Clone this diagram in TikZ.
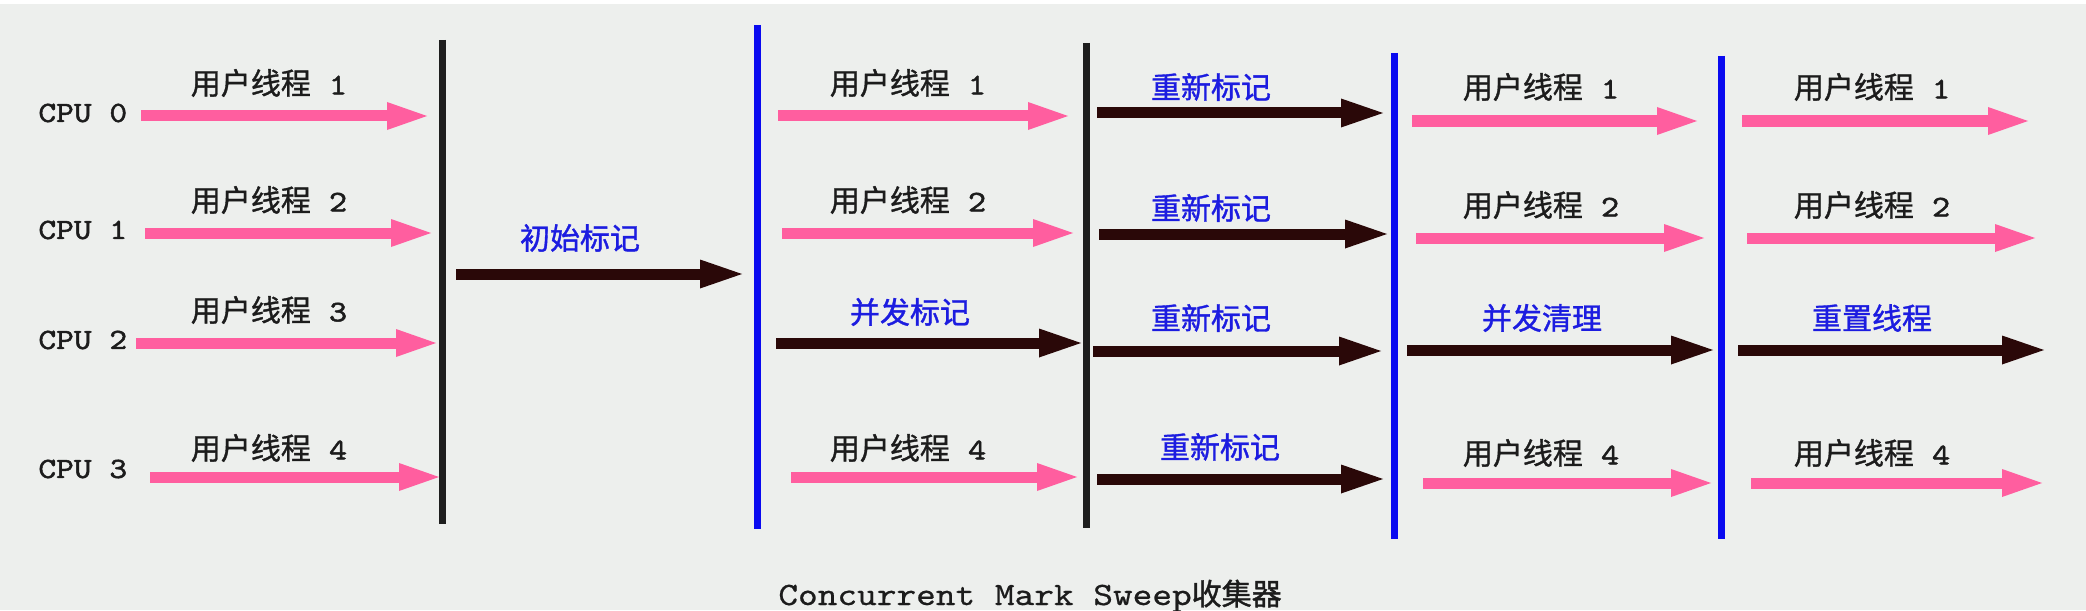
\documentclass[tikz,border=0pt]{standalone}
\usepackage{fontspec}
\usetikzlibrary{arrows.meta}
\newfontfamily\cjk{Noto Sans CJK SC}[FakeBold=1.2]
\newfontfamily\monoc{lmmono10-regular.otf}[FakeStretch=1.15,FakeBold=0.6]
\newfontfamily\monob{lmmono10-regular.otf}[FakeStretch=1.15,FakeBold=1.6]
\definecolor{bg}{HTML}{EDEFED}
\definecolor{pinkA}{HTML}{FF5E9F}
\definecolor{darkA}{HTML}{2A0808}
\definecolor{blueT}{HTML}{1C1CE0}
\definecolor{blueL}{HTML}{0A0AF0}
\definecolor{blackL}{HTML}{1E1E1E}
\definecolor{txt}{HTML}{1C1C1C}
\newcommand{\uthread}[1]{{\cjk 用户线程}{\monob\ #1}}
\tikzset{
  parr/.style={pinkA, line width=5.5pt, -{Triangle[length=20pt,width=14pt,line width=0pt]}},
  darr/.style={darkA, line width=5.5pt, -{Triangle[length=21pt,width=14.5pt,line width=0pt]}},
  blackbar/.style={blackL, line width=3.5pt},
  bluebar/.style={blueL, line width=3.5pt},
  ulab/.style={txt, inner sep=0pt, font=\fontsize{15}{18}\selectfont},
  blab/.style={blueT, inner sep=0pt, font=\fontsize{15}{18}\selectfont\cjk},
  cpulab/.style={txt, inner sep=0pt, anchor=west, font=\fontsize{14.7}{18}\selectfont\monob},
}
\begin{document}
\begin{tikzpicture}[x=0.5pt,y=-0.5pt]
\useasboundingbox (0,0) rectangle (2086,610);
\fill[bg] (0,0) rectangle (2086,610);
\fill[white] (0,0) rectangle (2086,4);

% vertical bars
\coordinate (k1t) at (442,40);  \coordinate (k1b) at (442,524);
\coordinate (b1t) at (757,25);  \coordinate (b1b) at (757,529);
\coordinate (k2t) at (1086,43); \coordinate (k2b) at (1086,528);
\coordinate (b2t) at (1394,53); \coordinate (b2b) at (1394,539);
\coordinate (b3t) at (1721,56); \coordinate (b3b) at (1721,539);
\draw[blackbar] (k1t) -- (k1b);
\draw[bluebar] (b1t) -- (b1b);
\draw[blackbar] (k2t) -- (k2b);
\draw[bluebar] (b2t) -- (b2b);
\draw[bluebar] (b3t) -- (b3b);

% CPU labels
\node[cpulab] (cpu0) at (38,113) {CPU 0};
\node[cpulab] (cpu1) at (38,230) {CPU 1};
\node[cpulab] (cpu2) at (38,340) {CPU 2};
\node[cpulab] (cpu3) at (38,469) {CPU 3};

% column 1
\coordinate (a10s) at (141,116); \coordinate (a10e) at (427,116);
\coordinate (a11s) at (145,233); \coordinate (a11e) at (431,233);
\coordinate (a12s) at (136,343); \coordinate (a12e) at (436,343);
\coordinate (a13s) at (150,477); \coordinate (a13e) at (439,477);
\draw[parr] (a10s) -- (a10e);
\draw[parr] (a11s) -- (a11e);
\draw[parr] (a12s) -- (a12e);
\draw[parr] (a13s) -- (a13e);
\node[ulab] (l10) at (269,83) {\uthread{1}};
\node[ulab] (l11) at (269,200) {\uthread{2}};
\node[ulab] (l12) at (269,310) {\uthread{3}};
\node[ulab] (l13) at (269,448) {\uthread{4}};

% initial mark
\coordinate (ims) at (456,274); \coordinate (ime) at (742,274);
\draw[darr] (ims) -- (ime);
\node[blab] (lim) at (580,238) {初始标记};

% column 2
\coordinate (a20s) at (778,116); \coordinate (a20e) at (1068,116);
\coordinate (a21s) at (782,233); \coordinate (a21e) at (1073,233);
\coordinate (a22s) at (776,343); \coordinate (a22e) at (1081,343);
\coordinate (a23s) at (791,477); \coordinate (a23e) at (1077,477);
\draw[parr] (a20s) -- (a20e);
\draw[parr] (a21s) -- (a21e);
\draw[darr] (a22s) -- (a22e);
\draw[parr] (a23s) -- (a23e);
\node[ulab] (l20) at (908,83) {\uthread{1}};
\node[ulab] (l21) at (908,200) {\uthread{2}};
\node[blab] (l22) at (910,312) {并发标记};
\node[ulab] (l23) at (908,448) {\uthread{4}};

% column 3
\coordinate (a30s) at (1097,113); \coordinate (a30e) at (1383,113);
\coordinate (a31s) at (1099,234); \coordinate (a31e) at (1387,234);
\coordinate (a32s) at (1093,351); \coordinate (a32e) at (1381,351);
\coordinate (a33s) at (1097,479); \coordinate (a33e) at (1383,479);
\draw[darr] (a30s) -- (a30e);
\draw[darr] (a31s) -- (a31e);
\draw[darr] (a32s) -- (a32e);
\draw[darr] (a33s) -- (a33e);
\node[blab] (l30) at (1211,87) {重新标记};
\node[blab] (l31) at (1211,208) {重新标记};
\node[blab] (l32) at (1211,318) {重新标记};
\node[blab] (l33) at (1220,447) {重新标记};

% column 4
\coordinate (a40s) at (1412,121); \coordinate (a40e) at (1697,121);
\coordinate (a41s) at (1416,238); \coordinate (a41e) at (1704,238);
\coordinate (a42s) at (1407,350); \coordinate (a42e) at (1713,350);
\coordinate (a43s) at (1423,483); \coordinate (a43e) at (1711,483);
\draw[parr] (a40s) -- (a40e);
\draw[parr] (a41s) -- (a41e);
\draw[darr] (a42s) -- (a42e);
\draw[parr] (a43s) -- (a43e);
\node[ulab] (l40) at (1541,87) {\uthread{1}};
\node[ulab] (l41) at (1541,205) {\uthread{2}};
\node[blab] (l42) at (1542,318) {并发清理};
\node[ulab] (l43) at (1541,453) {\uthread{4}};

% column 5
\coordinate (a50s) at (1742,121); \coordinate (a50e) at (2028,121);
\coordinate (a51s) at (1747,238); \coordinate (a51e) at (2035,238);
\coordinate (a52s) at (1738,350); \coordinate (a52e) at (2044,350);
\coordinate (a53s) at (1751,483); \coordinate (a53e) at (2042,483);
\draw[parr] (a50s) -- (a50e);
\draw[parr] (a51s) -- (a51e);
\draw[darr] (a52s) -- (a52e);
\draw[parr] (a53s) -- (a53e);
\node[ulab] (l50) at (1872,87) {\uthread{1}};
\node[ulab] (l51) at (1872,205) {\uthread{2}};
\node[blab] (l52) at (1872,318) {重置线程};
\node[ulab] (l53) at (1872,453) {\uthread{4}};

% caption
\node[txt, inner sep=0pt, anchor=base west] (cap) at (778,605)
  {{\fontsize{16.3}{18}\selectfont\monoc Concurrent Mark Sweep}{\fontsize{15}{18}\selectfont\cjk 收集器}};
\end{tikzpicture}
\end{document}
